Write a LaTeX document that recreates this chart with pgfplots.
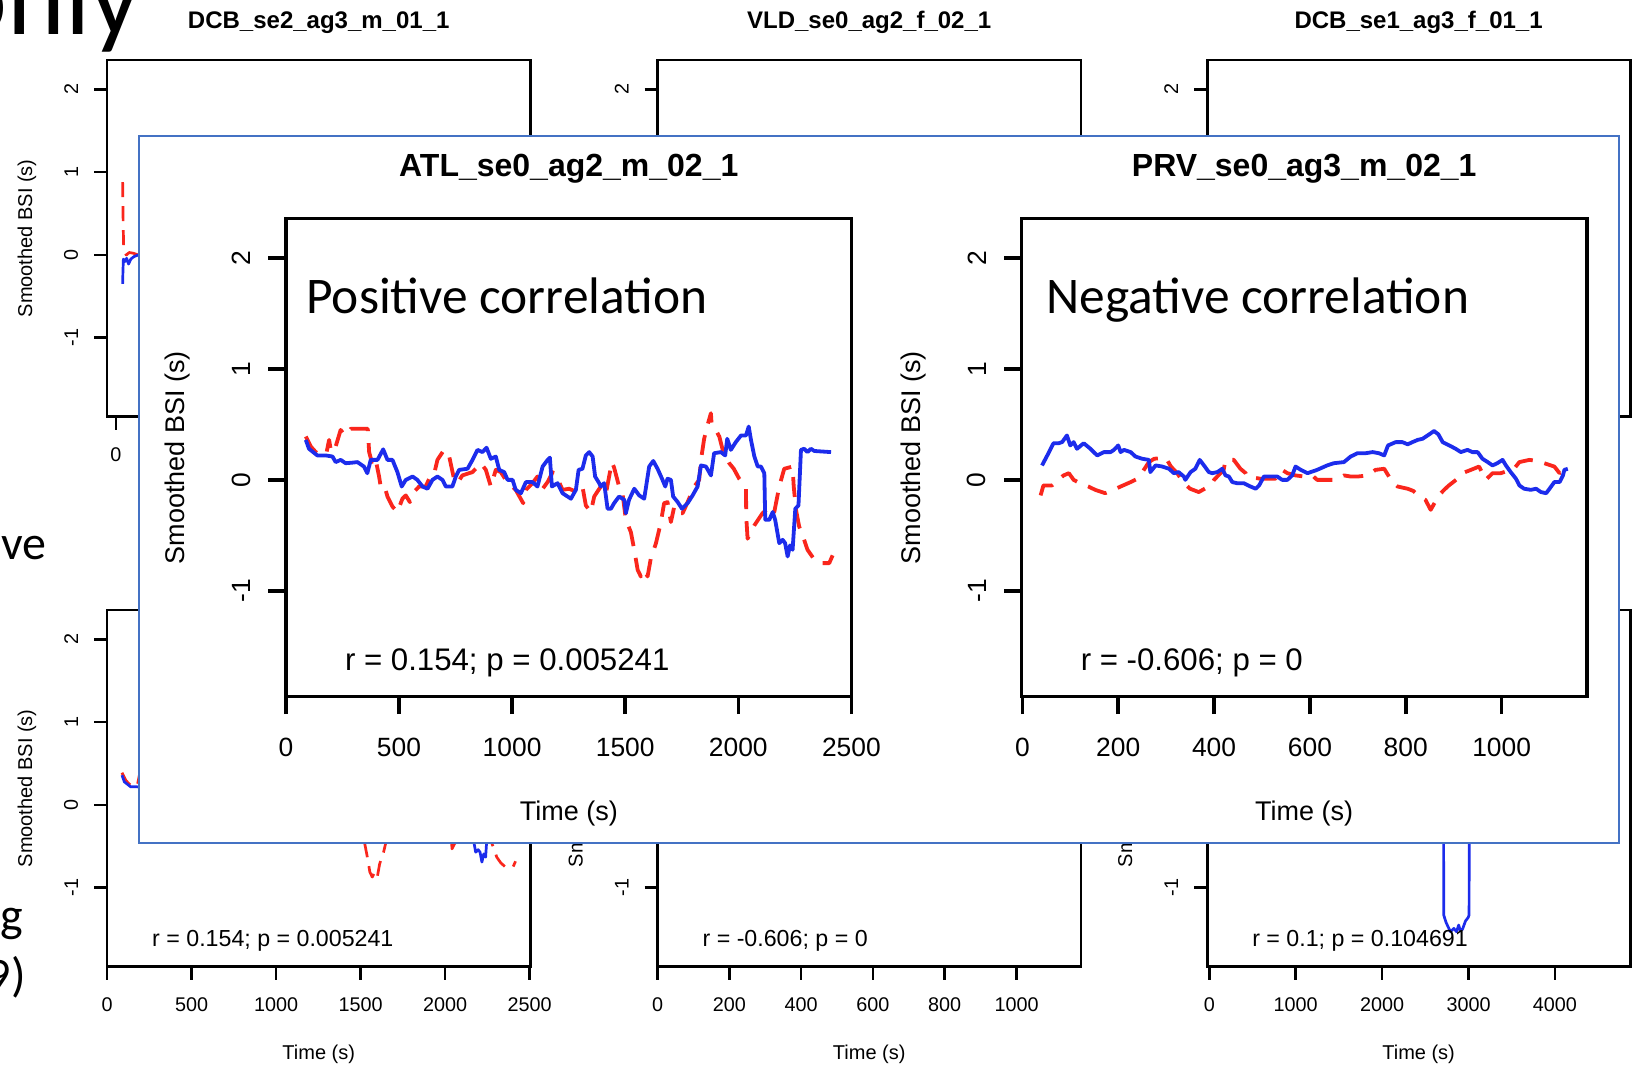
\documentclass[border=0pt]{standalone}
\usepackage{fontspec}
\setmainfont{Liberation Sans}
\newfontfamily\calibri{Carlito}
\usepackage{pgfplots}
\usepackage{pgfplotstable}
\pgfplotsset{compat=1.18}
\definecolor{rblue}{RGB}{28,44,236}
\definecolor{rred}{RGB}{250,38,28}
\definecolor{frameblue}{RGB}{68,114,196}

% ATL_se0_ag2_m_02_1 (blue solid, red dashed)
\pgfplotstableread{
x y
88 0.36
102 0.28
139 0.22
176 0.22
206 0.21
220 0.16
242 0.18
264 0.15
294 0.155
316 0.16
345 0.12
360 0.06
375 0.18
405 0.18
430 0.275
449 0.18
471 0.18
493 0.07
512 -0.06
530 0.0
560 0.03
581 0.0
604 -0.06
626 -0.08
648 0.0
670 0.03
692 0.0
707 -0.06
736 -0.06
751 0.03
766 0.09
803 0.10
825 0.18
847 0.27
869 0.25
887 0.29
906 0.19
928 0.21
943 0.09
965 0.07
980 0.0
1002 0.0
1016 -0.09
1039 -0.12
1061 -0.02
1090 -0.02
1112 -0.06
1135 0.12
1157 0.18
1167 0.20
1176 -0.06
1201 -0.03
1223 -0.12
1260 -0.17
1282 -0.09
1294 0.09
1311 0.10
1326 0.22
1341 0.25
1356 0.21
1367 0.03
1385 -0.03
1392 -0.06
1407 -0.03
1422 -0.26
1437 -0.26
1451 -0.21
1473 -0.15
1496 -0.18
1503 -0.30
1517 -0.18
1540 -0.08
1562 -0.14
1584 -0.17
1606 0.12
1624 0.17
1643 0.10
1665 0.0
1677 -0.06
1687 0.01
1702 0.0
1712 -0.15
1732 -0.20
1751 -0.26
1776 -0.21
1798 -0.14
1820 -0.06
1835 0.13
1857 0.12
1879 0.04
1893 0.24
1923 0.25
1942 0.22
1951 0.37
1967 0.27
1989 0.34
2012 0.40
2034 0.40
2046 0.48
2056 0.36
2071 0.21
2086 0.12
2100 0.12
2115 0.06
2119 -0.36
2137 -0.36
2152 -0.29
2163 -0.36
2181 -0.57
2196 -0.54
2207 -0.57
2218 -0.69
2229 -0.59
2240 -0.63
2252 -0.26
2266 -0.23
2277 0.27
2291 0.28
2306 0.25
2321 0.28
2336 0.26
2410 0.25
}\atlB
\pgfplotstableread{
x y
88 0.39
110 0.30
132 0.25
160 0.22
180 0.25
191 0.36
200 0.25
220 0.30
242 0.45
260 0.40
287 0.46
362 0.46
368 0.25
380 0.16
395 0.20
412 0.03
419 -0.06
435 -0.05
449 -0.15
471 -0.24
493 -0.29
515 -0.17
530 -0.14
548 -0.20
570 -0.10
589 -0.06
618 -0.06
640 0.04
655 0.05
670 0.18
699 0.27
721 0.22
744 0.0
758 -0.03
780 0.04
825 0.07
862 0.15
884 0.09
906 -0.06
928 0.09
950 0.07
972 0.0
995 -0.05
1016 -0.09
1049 -0.21
1061 -0.09
1090 -0.03
1112 0.03
1135 -0.08
1157 -0.02
1179 0.07
1201 0.01
1223 -0.09
1252 -0.08
1275 -0.10
1296 -0.09
1311 -0.06
1326 -0.23
1348 -0.29
1363 -0.15
1392 -0.06
1415 -0.12
1441 0.16
1451 0.11
1473 -0.06
1488 -0.12
1503 -0.36
1525 -0.47
1540 -0.63
1555 -0.81
1569 -0.87
1584 -0.81
1599 -0.87
1613 -0.71
1636 -0.57
1657 -0.39
1672 -0.21
1687 -0.20
1702 -0.38
1717 -0.24
1735 -0.30
1754 -0.30
1776 -0.20
1805 -0.06
1827 0.0
1835 0.18
1849 0.37
1865 0.50
1879 0.60
1882 0.50
1900 0.45
1916 0.39
1931 0.27
1960 0.15
1980 0.10
2004 0.01
2020 -0.03
2034 -0.08
2035 -0.33
2041 -0.53
2071 -0.41
2107 -0.30
2144 -0.24
2159 -0.29
2181 -0.06
2203 0.10
2240 0.12
2245 -0.06
2255 -0.27
2269 -0.42
2291 -0.54
2306 -0.63
2330 -0.70
2358 -0.75
2402 -0.75
2417 -0.68
}\atlR
% PRV_se0_ag3_m_02_1
\pgfplotstableread{
x y
41 0.13
52 0.22
65 0.33
76 0.33
83 0.34
93 0.40
100 0.31
107 0.34
114 0.28
128 0.33
142 0.28
156 0.22
170 0.25
184 0.25
191 0.27
200 0.31
205 0.25
212 0.27
226 0.25
236 0.21
250 0.19
264 0.18
267 0.07
278 0.13
292 0.12
306 0.10
316 0.06
326 0.07
337 0.03
340 0.0
351 0.07
361 0.10
370 0.18
379 0.13
389 0.07
396 0.06
407 0.07
417 0.10
424 0.04
431 0.03
438 -0.02
448 -0.03
462 -0.03
476 -0.06
487 -0.08
494 -0.05
504 0.03
518 0.03
532 0.03
542 0.0
553 0.0
563 0.04
570 0.12
581 0.09
595 0.06
615 0.09
636 0.13
650 0.15
671 0.16
685 0.21
699 0.24
716 0.24
731 0.25
744 0.24
755 0.22
763 0.31
779 0.34
793 0.34
804 0.32
814 0.34
825 0.36
835 0.37
849 0.41
859 0.44
868 0.41
877 0.34
891 0.31
904 0.28
915 0.25
929 0.27
939 0.25
950 0.25
960 0.19
971 0.16
981 0.13
991 0.15
1002 0.18
1009 0.13
1019 0.07
1030 0.01
1037 -0.05
1047 -0.08
1061 -0.09
1072 -0.08
1082 -0.11
1093 -0.12
1100 -0.08
1110 -0.02
1121 -0.02
1128 0.04
1131 0.09
1138 0.10
}\prvB
\pgfplotstableread{
x y
38 -0.14
44 -0.05
62 -0.05
75 0.0
86 0.04
97 0.06
107 0.0
120 -0.03
138 -0.06
152 -0.09
173 -0.12
190 -0.09
205 -0.06
226 -0.02
240 0.01
252 0.08
264 0.16
275 0.19
299 0.20
310 0.12
323 0.06
337 -0.03
350 -0.08
368 -0.11
393 -0.05
400 0.0
420 0.09
424 0.18
441 0.18
455 0.10
466 0.06
469 0.03
497 0.01
528 0.01
542 0.09
553 0.06
570 0.04
588 0.03
605 0.04
615 0.0
635 0.0
654 0.0
671 0.04
685 0.03
700 0.03
720 0.04
737 0.09
755 0.10
772 -0.02
783 -0.06
804 -0.08
816 -0.10
828 -0.15
841 -0.18
852 -0.27
869 -0.14
880 -0.09
890 -0.05
905 0.0
918 0.06
936 0.09
953 0.12
967 0.0
981 0.06
998 0.06
1012 0.08
1026 0.10
1037 0.16
1058 0.18
1075 0.17
1089 0.15
1110 0.12
1121 0.06
1135 0.10
}\prvR
% DCB_se2_ag3_m_01_1 (only its start is visible)
\pgfplotstableread{
x y
45 -0.35
47 -0.20
50 -0.05
60 -0.08
72 -0.04
85 -0.11
100 -0.05
121 -0.02
150 0.0
400 0.05
800 -0.05
1200 0.05
1600 0.0
2000 -0.05
2500 0.05
}\dcbTwoB
\pgfplotstableread{
x y
45 0.88
46 0.70
48 0.45
50 0.25
52 0.08
58 0.03
70 0.0
90 0.03
120 0.02
150 0.0
400 0.05
800 0.0
1200 -0.05
1600 0.05
2000 0.0
2500 -0.05
}\dcbTwoR
% DCB_se1_ag3_f_01_1
\pgfplotstableread{
x y
100 0.05
600 0.10
1200 -0.05
1800 0.10
2400 0.0
2700 0.05
2711 -0.30
2713 -1.33
2740 -1.42
2790 -1.53
2830 -1.49
2860 -1.53
2886 -1.45
2905 -1.52
2930 -1.50
2965 -1.40
2995 -1.36
3006 -1.33
3008 -0.30
3020 0.05
3600 0.10
4200 0.0
4500 0.05
}\dcbOneB

\pgfplotsset{
 rcommon/.style={
  scale only axis, anchor=south west,
  ymin=-1.953, ymax=2.355, ytick={-1,0,1,2},
  tick pos=left, tick align=outside,
  xticklabel style={anchor=north},
  yticklabel style={rotate=90, anchor=south},
  /pgf/number format/assume math mode=true,
  /pgf/number format/1000 sep={},
  scaled ticks=false,
  clip=true,
 },
 rsmall/.style={
  rcommon, width=211.65pt, height=178.35pt,
  major tick length=6.5pt,
  axis line style={line width=1.3pt},
  tick style={black, line width=1.3pt},
  tick label style={font=\fontsize{9.9}{11}\selectfont, inner sep=0pt},
  xticklabel shift=8.6pt, yticklabel shift=7.8pt,
 },
 rbig/.style={
  rcommon, width=282.75pt, height=239.15pt,
  major tick length=8.7pt,
  axis line style={line width=1.8pt},
  tick style={black, line width=1.8pt},
  tick label style={font=\fontsize{13.2}{15}\selectfont, inner sep=0pt},
  xticklabel shift=11.6pt, yticklabel shift=8.7pt,
 },
 bsmall/.style={rblue, line width=1.35pt, line join=round, no marks},
 rsmallred/.style={rred, line width=1.35pt, line join=round, no marks, dash pattern=on 7.5pt off 4.5pt},
 bbig/.style={rblue, line width=1.9pt, line join=round, no marks},
 rbigred/.style={rred, line width=1.9pt, line join=round, no marks, dash pattern=on 10pt off 6pt},
}

\begin{document}
\begin{tikzpicture}
\useasboundingbox (0,0) rectangle (816pt,532.5pt);
\clip (0,0) rectangle (816pt,532.5pt);
\fill[white] (0,0) rectangle (816pt,532.5pt);

% ---------- background grid of six panels ----------
\begin{axis}[rsmall, at={(53.55pt,324.15pt)}, xmin=-60, xmax=2800, xtick={0,500,...,2500}]
\addplot[rsmallred] table[x=x,y=y] {\dcbTwoR};
\addplot[bsmall] table[x=x,y=y] {\dcbTwoB};
\end{axis}
\begin{axis}[rsmall, at={(328.75pt,324.15pt)}, xmin=0, xmax=1179, xtick={0,200,...,1000}]
\end{axis}
\begin{axis}[rsmall, at={(603.6pt,324.15pt)}, xmin=-24, xmax=4874, xtick={0,1000,...,4000}]
\end{axis}
\begin{axis}[rsmall, at={(53.55pt,49.15pt)}, xmin=0, xmax=2505, xtick={0,500,...,2500}]
\addplot[rsmallred] table[x=x,y=y] {\atlR};
\addplot[bsmall] table[x=x,y=y] {\atlB};
\end{axis}
\begin{axis}[rsmall, at={(328.75pt,49.15pt)}, xmin=0, xmax=1179, xtick={0,200,...,1000}]
\addplot[rsmallred] table[x=x,y=y] {\prvR};
\addplot[bsmall] table[x=x,y=y] {\prvB};
\end{axis}
\begin{axis}[rsmall, at={(603.6pt,49.15pt)}, xmin=-24, xmax=4874, xtick={0,1000,...,4000}]
\addplot[bsmall] table[x=x,y=y] {\dcbOneB};
\end{axis}

\begin{scope}[x=0.5pt,y=-0.5pt,yshift=532.5pt]
 \tikzset{tt/.style={inner sep=0pt, font=\bfseries\fontsize{12}{14}\selectfont, anchor=base},
          lab/.style={inner sep=0pt, font=\fontsize{10}{12}\selectfont, anchor=base},
          rt/.style={inner sep=0pt, font=\fontsize{11.6}{13}\selectfont, anchor=base west}}
 \node[tt] at (318.75,29) {DCB\_se2\_ag3\_m\_01\_1};
 \node[tt] at (869.2,29) {VLD\_se0\_ag2\_f\_02\_1};
 \node[tt] at (1418.6,29) {DCB\_se1\_ag3\_f\_01\_1};
 \foreach \xx in {32.1,582.5,1132.2} {
   \node[lab, rotate=90] at (\xx,238.35) {Smoothed BSI (s)};
   \node[lab, rotate=90] at (\xx,788.35) {Smoothed BSI (s)};
 }
 \foreach \xx in {318.75,869.2,1418.6} {
   \node[lab] at (\xx,509.3) {Time (s)};
   \node[lab] at (\xx,1059.3) {Time (s)};
 }
 \node[rt] at (151.8,947) {r = 0.154; p = 0.005241};
 \node[rt] at (702.2,947) {r = -0.606; p = 0};
 \node[rt] at (1251.9,947) {r = 0.1; p = 0.104691};

 % slide text at the left edge (partly off the slide view)
 \node[inner sep=0pt, anchor=base east, font=\calibri\fontsize{55}{60}\selectfont] at (141,35) {only};
 \node[inner sep=0pt, anchor=base east, font=\calibri\fontsize{24}{29}\selectfont] at (47,560) {ve};
 \node[inner sep=0pt, anchor=base east, font=\calibri\fontsize{24}{29}\selectfont] at (23,932) {g};
 \node[inner sep=0pt, anchor=base east, font=\calibri\fontsize{24}{29}\selectfont] at (26,991) {9)};

 % overlay panel
 \draw[frameblue, line width=1.1pt, fill=white] (138.6,136) rectangle (1618.7,843.3);
\end{scope}

% ---------- enlarged panels on the overlay ----------
\begin{axis}[rbig, at={(142.95pt,184.15pt)}, xmin=0, xmax=2500, xtick={0,500,...,2500}]
\addplot[rbigred] table[x=x,y=y] {\atlR};
\addplot[bbig] table[x=x,y=y] {\atlB};
\end{axis}
\begin{axis}[rbig, at={(510.7pt,184.15pt)}, xmin=-2, xmax=1178, xtick={0,200,...,1000}]
\addplot[rbigred] table[x=x,y=y] {\prvR};
\addplot[bbig] table[x=x,y=y] {\prvB};
\end{axis}

\begin{scope}[x=0.5pt,y=-0.5pt,yshift=532.5pt]
 \tikzset{tt/.style={inner sep=0pt, font=\bfseries\fontsize{16}{18}\selectfont, anchor=base},
          lab/.style={inner sep=0pt, font=\fontsize{13.5}{15}\selectfont, anchor=base},
          rt/.style={inner sep=0pt, font=\fontsize{15.6}{18}\selectfont, anchor=base west}}
 \node[tt] at (568.8,176.5) {ATL\_se0\_ag2\_m\_02\_1};
 \node[tt] at (1304.2,176.5) {PRV\_se0\_ag3\_m\_02\_1};
 \node[lab, rotate=90] at (184.9,457.55) {Smoothed BSI (s)};
 \node[lab, rotate=90] at (920.4,457.55) {Smoothed BSI (s)};
 \node[lab] at (568.8,820.9) {Time (s)};
 \node[lab] at (1304.2,820.9) {Time (s)};
 \node[rt] at (344.6,671) {r = 0.154; p = 0.005241};
 \node[rt] at (1080.4,671) {r = -0.606; p = 0};
 \node[inner sep=0pt, anchor=base west, font=\calibri\fontsize{25.7}{30}\selectfont] at (306,313.3) {Positive correlation};
 \node[inner sep=0pt, anchor=base west, font=\calibri\fontsize{25.7}{30}\selectfont] at (1046,313.3) {Negative correlation};
\end{scope}
\end{tikzpicture}
\end{document}
